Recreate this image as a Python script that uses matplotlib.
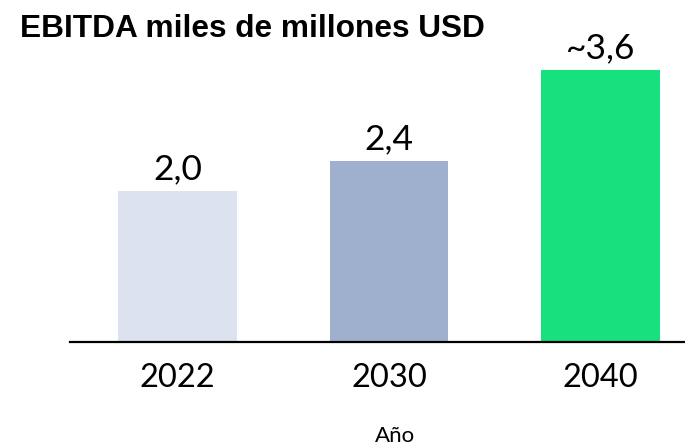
import matplotlib
matplotlib.use("Agg")
from matplotlib import pyplot as plt

# data
years = ["2022", "2030", "2040"]
ebitda = [2.0, 2.4, 3.6]
value_labels = ["2,0", "2,4", "~3,6"]
bar_colors = ["#dde3ee", "#9fb0ce", "#17e07f"]


def run_chart():
    fig = plt.figure(figsize=(6.85, 4.46), dpi=100)
    ax = fig.add_axes([0.102, 0.233, 0.898, 0.678])

    x = range(len(years))
    bars = ax.bar(x, ebitda, width=0.56, color=bar_colors)

    # value labels above each bar
    for bar, lab in zip(bars, value_labels):
        ax.annotate(lab, (bar.get_x() + bar.get_width() / 2, bar.get_height()),
                    xytext=(0, 4), textcoords="offset points",
                    ha="center", va="bottom", fontsize=25.5, family="Lato")

    ax.set_xlim(-0.51, 2.40)
    ax.set_ylim(0, 4)
    ax.set_xticks(list(x))
    ax.set_xticklabels(years, fontsize=23.5, family="Lato")
    ax.tick_params(axis="x", length=0, pad=15)
    ax.set_yticks([])
    for side in ["left", "right", "top"]:
        ax.spines[side].set_visible(False)
    ax.spines["bottom"].set_linewidth(1.6)

    fig.text(0.029, 0.935, "EBITDA miles de millones USD", fontsize=22.8,
             fontweight="bold", family="Liberation Sans", va="center")
    fig.text(0.577, 0.022, "Año", fontsize=16, family="Lato", ha="center", va="center")

    fig.savefig("out.png", dpi=100)


if __name__ == '__main__':
    run_chart()
